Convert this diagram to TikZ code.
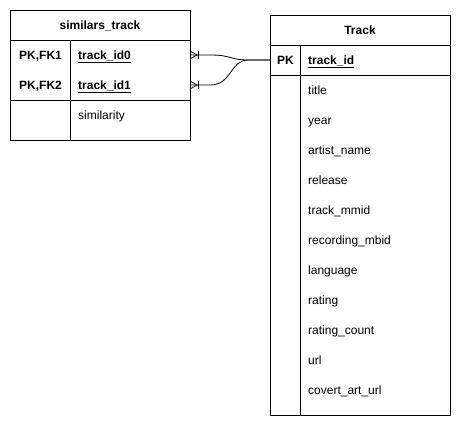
\documentclass[tikz,border=0pt]{standalone}
\usepackage{fontspec}
\setmainfont{Liberation Sans}
\begin{document}
\begin{tikzpicture}[x=1pt,y=-1pt,
  box/.style={draw=black,line width=0.8pt},
  lbl/.style={inner sep=0pt,anchor=west,text height=9.6pt,text depth=1.0pt,font=\fontsize{12}{14}\selectfont},
  blbl/.style={lbl,font=\fontsize{12}{14}\selectfont\bfseries},
  ttl/.style={inner sep=0pt,text height=9.6pt,text depth=1.0pt,font=\fontsize{12}{14}\selectfont\bfseries},
  conn/.style={draw=black,line width=0.8pt}]
\useasboundingbox (0,0) rectangle (461,426);
% similars_track table
\draw[box] (10,10) rectangle (190,140);
\draw[box] (10,40) -- (190,40);
\draw[box] (10,100) -- (190,100);
\draw[box] (70,40) -- (70,140);
\node[ttl] (st) at (100,25) {similars\_track};
\node[blbl] (k1) at (19,55) {PK,FK1};
\node[blbl] (k2) at (19,85) {PK,FK2};
\node[blbl] (a0) at (78,55) {\underline{track\_id0}};
\node[blbl] (a1) at (78,85) {\underline{track\_id1}};
\node[lbl] (sim) at (78,115) {similarity};
% Track table
\draw[box] (270,15) rectangle (450,415);
\draw[box] (270,45) -- (450,45);
\draw[box] (270,75) -- (450,75);
\draw[box] (300,45) -- (300,415);
\node[ttl] (tr) at (360,30) {Track};
\node[blbl] (pk) at (277,60) {PK};
\node[blbl] (tid) at (308,60) {\underline{track\_id}};
\node[lbl] (f1) at (308,90) {title};
\node[lbl] (f2) at (308,120) {year};
\node[lbl] (f3) at (308,150) {artist\_name};
\node[lbl] (f4) at (308,180) {release};
\node[lbl] (f5) at (308,210) {track\_mmid};
\node[lbl] (f6) at (308,240) {recording\_mbid};
\node[lbl] (f7) at (308,270) {language};
\node[lbl] (f8) at (308,300) {rating};
\node[lbl] (f9) at (308,330) {rating\_count};
\node[lbl] (f10) at (308,360) {url};
\node[lbl] (f11) at (308,390) {covert\_art\_url};
% connector endpoints
\coordinate (s0) at (190,55);
\coordinate (s1) at (190,85);
\coordinate (t) at (270,60);
\draw[conn] (s0) -- (210,55) .. controls (232,55) and (230,60) .. (248,60) -- (t);
\draw[conn] (s1) -- (210,85) .. controls (232,85) and (230,60) .. (248,60) -- (t);
% crow's feet
\foreach \yy in {55,85}{
  \draw[conn] (190,\yy-4) -- (197,\yy) -- (190,\yy+4);
  \draw[conn] (198,\yy-4) -- (198,\yy+4);
}
\end{tikzpicture}
\end{document}
